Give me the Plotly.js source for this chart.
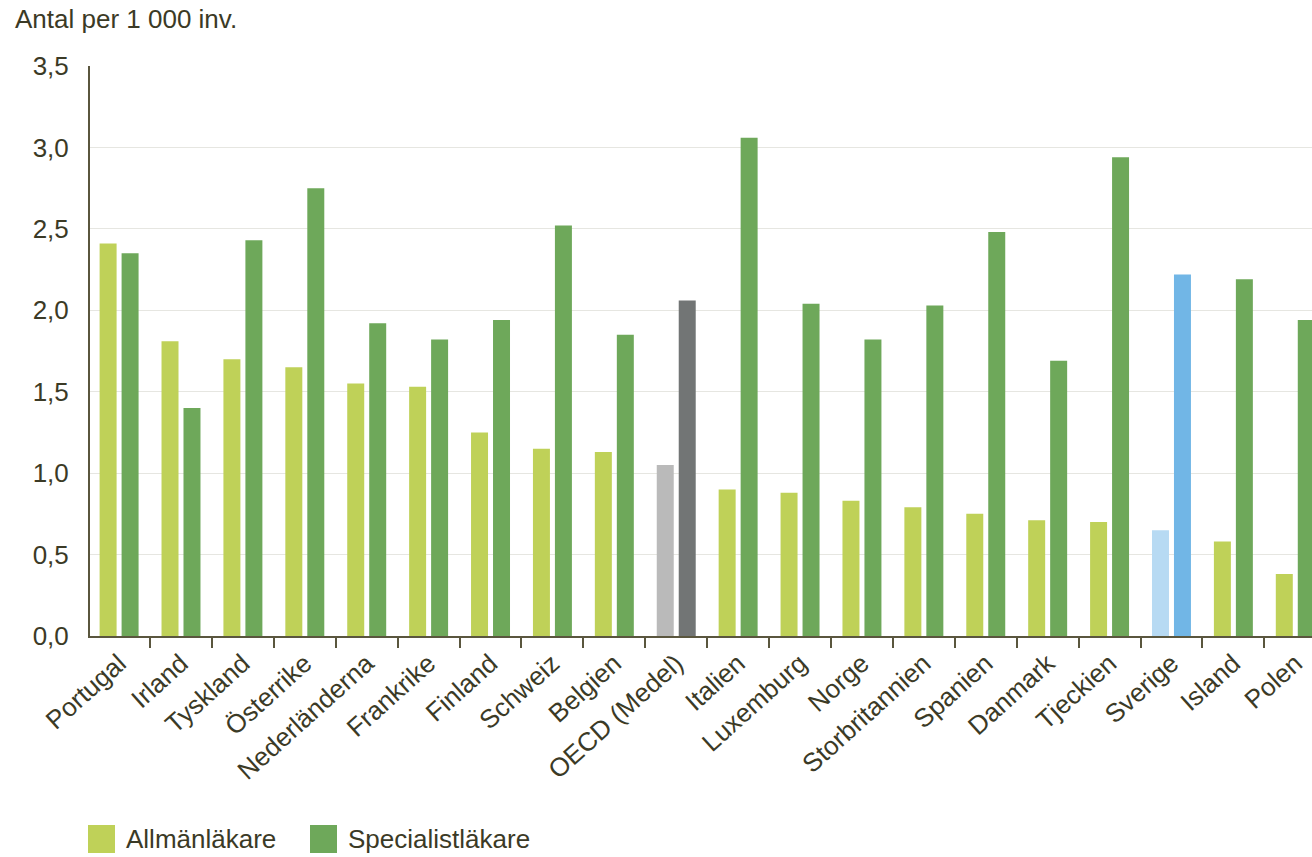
<!DOCTYPE html>
<html>
<head>
<meta charset="utf-8">
<script src="https://cdn.plot.ly/plotly-3.0.1.min.js"></script>
<style>html,body{margin:0;padding:0;background:#fff;}#chart{width:1312px;height:857px;}</style>
</head>
<body>
<div id="chart"></div>
<script>
const countries = ["Portugal","Irland","Tyskland","Österrike","Nederländerna","Frankrike","Finland","Schweiz","Belgien","OECD (Medel)","Italien","Luxemburg","Norge","Storbritannien","Spanien","Danmark","Tjeckien","Sverige","Island","Polen"];
const allmanlakare = [2.41,1.81,1.70,1.65,1.55,1.53,1.25,1.15,1.13,1.05,0.90,0.88,0.83,0.79,0.75,0.71,0.70,0.65,0.58,0.38];
const specialistlakare = [2.35,1.40,2.43,2.75,1.92,1.82,1.94,2.52,1.85,2.06,3.06,2.04,1.82,2.03,2.48,1.69,2.94,2.22,2.19,1.94];
const yTicks = [0,0.5,1,1.5,2,2.5,3,3.5];
const seriesNames = ["Allmänläkare","Specialistläkare"];
const titleText = "Antal per 1 000 inv.";

const TXT = "#3b3a26";
const AX = "#5a563e";
const FONT = "Liberation Sans, Arial, sans-serif";
const FS = 26;
const gpColor = c => c === "OECD (Medel)" ? "#bababa" : (c === "Sverige" ? "#b7daf3" : "#bfd158");
const spColor = c => c === "OECD (Medel)" ? "#727575" : (c === "Sverige" ? "#71b6e6" : "#6ea85a");

const traces = [
  {type:"bar", name:seriesNames[0], x:countries, y:allmanlakare,
   marker:{color:countries.map(gpColor), line:{width:0}}, showlegend:false, hoverinfo:"x+y"},
  {type:"bar", name:seriesNames[1], x:countries, y:specialistlakare,
   marker:{color:countries.map(spColor), line:{width:0}}, showlegend:false, hoverinfo:"x+y"}
];

// custom legend geometry (paper coords relative to plot area 90..1312 x, 66..636 y)
const pw = 1222, ph = 570;
const px = v => (v - 90) / pw;
const py = v => (636 - v) / ph;

const layout = {
  width:1312, height:857,
  margin:{l:90, r:0, t:66, b:221, pad:0},
  paper_bgcolor:"#fff", plot_bgcolor:"#fff",
  separators:", ",
  font:{family:FONT, size:FS, color:TXT},
  barmode:"group", bargap:0.29, bargroupgap:0.227,
  title:{text:titleText, font:{family:FONT, size:FS, color:TXT},
         xref:"container", yref:"container", x:15/1312, xanchor:"left", y:1-19/857, yanchor:"middle"},
  xaxis:{type:"category", range:[-0.47, 19.27], tickson:"boundaries", ticks:"outside", ticklen:10, tickwidth:2, tickcolor:AX,
         showline:true, linecolor:AX, linewidth:2, showgrid:false, tickangle:-42,
         tickfont:{family:FONT, size:FS, color:TXT}, fixedrange:true},
  yaxis:{range:[0,3.5], tickvals:yTicks, tickformat:".1f", ticks:"", showline:true, linecolor:AX, linewidth:2,
         showgrid:true, gridcolor:"#e6e6e1", gridwidth:1, zeroline:false, ticklabelstandoff:14,
         tickfont:{family:FONT, size:FS, color:TXT}, fixedrange:true},
  shapes:[
    {type:"rect", xref:"paper", yref:"paper", x0:px(88), x1:px(115), y0:py(853), y1:py(825), fillcolor:"#bfd158", line:{width:0}},
    {type:"rect", xref:"paper", yref:"paper", x0:px(310), x1:px(337), y0:py(853), y1:py(825), fillcolor:"#6ea85a", line:{width:0}}
  ],
  annotations:[
    {xref:"paper", yref:"paper", x:px(124), y:py(839), xanchor:"left", yanchor:"middle", showarrow:false, text:seriesNames[0], font:{family:FONT, size:FS, color:TXT}},
    {xref:"paper", yref:"paper", x:px(346), y:py(839), xanchor:"left", yanchor:"middle", showarrow:false, text:seriesNames[1], font:{family:FONT, size:FS, color:TXT}}
  ]
};

Plotly.newPlot("chart", traces, layout, {displayModeBar:false, staticPlot:true});
</script>
</body>
</html>
